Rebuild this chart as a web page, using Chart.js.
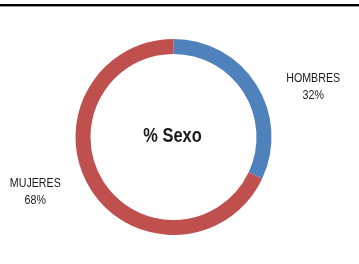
<!DOCTYPE html>
<html>
<head>
<meta charset="utf-8">
<script src="https://cdn.jsdelivr.net/npm/chart.js@4/dist/chart.umd.min.js"></script>
<style>
  html, body { margin: 0; padding: 0; background: #fff; }
  #wrap { position: relative; width: 359px; height: 264px; }
  #topline { position: absolute; left: 0; top: 4px; width: 359px; height: 2px; background: #000; border-bottom: 1px solid #999; }
  canvas { position: absolute; left: 0; top: 0; }
</style>
</head>
<body>
<div id="wrap">
  <canvas id="pieChart" width="359" height="264"></canvas>
  <div id="topline"></div>
</div>
<script>
var labels = ['HOMBRES', 'MUJERES'];
var values = [32, 68];
var colors = ['#4F81BD', '#C0504D'];
var centerTitle = '% Sexo';

var labelFont = '13px "Liberation Sans", Arial, sans-serif';
var titleFont = 'bold 20px "Liberation Sans", Arial, sans-serif';
var squeeze = 0.82; // narrow the text like the Calibri of the original

function narrowText(ctx, text, x, y) {
    ctx.save();
    ctx.translate(x, y);
    ctx.scale(squeeze, 1);
    ctx.fillText(text, 0, 0);
    ctx.restore();
}

// draws the title in the hole and the outside labels next to each slice
var sliceLabels = {
    id: 'sliceLabels',
    afterDatasetsDraw: function (chart) {
        var ctx = chart.ctx;
        var meta = chart.getDatasetMeta(0);
        var total = values.reduce(function (a, b) { return a + b; }, 0);
        ctx.save();
        ctx.fillStyle = '#1a1a1a';
        ctx.textAlign = 'center';
        ctx.textBaseline = 'middle';

        var first = meta.data[0];
        ctx.font = titleFont;
        narrowText(ctx, centerTitle, first.x - 1, first.y - 1);

        ctx.font = labelFont;
        meta.data.forEach(function (arc, i) {
            var mid = (arc.startAngle + arc.endAngle) / 2;
            var px = arc.x + Math.cos(mid) * arc.outerRadius;
            var py = arc.y + Math.sin(mid) * arc.outerRadius;
            var side = Math.cos(mid) >= 0 ? 1 : -1;
            var pct = Math.round(values[i] / total * 100) + '%';
            var w = Math.max(ctx.measureText(labels[i]).width, ctx.measureText(pct).width) * squeeze;
            var lx = px + side * (30 + w / 2);
            narrowText(ctx, labels[i], lx, py - 6);
            narrowText(ctx, pct, lx, py + 11);
        });
        ctx.restore();
    }
};

var ctx = document.getElementById('pieChart').getContext('2d');
var myChart = new Chart(ctx, {
    type: 'doughnut',
    data: {
        labels: labels,
        datasets: [{
            data: values,
            backgroundColor: colors,
            borderWidth: 0
        }]
    },
    options: {
        responsive: false,
        animation: false,
        cutout: '84.7%',
        layout: { padding: { top: 39, bottom: 29, left: 60, right: 72 } },
        plugins: {
            legend: { display: false },
            tooltip: { enabled: false }
        }
    },
    plugins: [sliceLabels]
});
</script>
</body>
</html>
